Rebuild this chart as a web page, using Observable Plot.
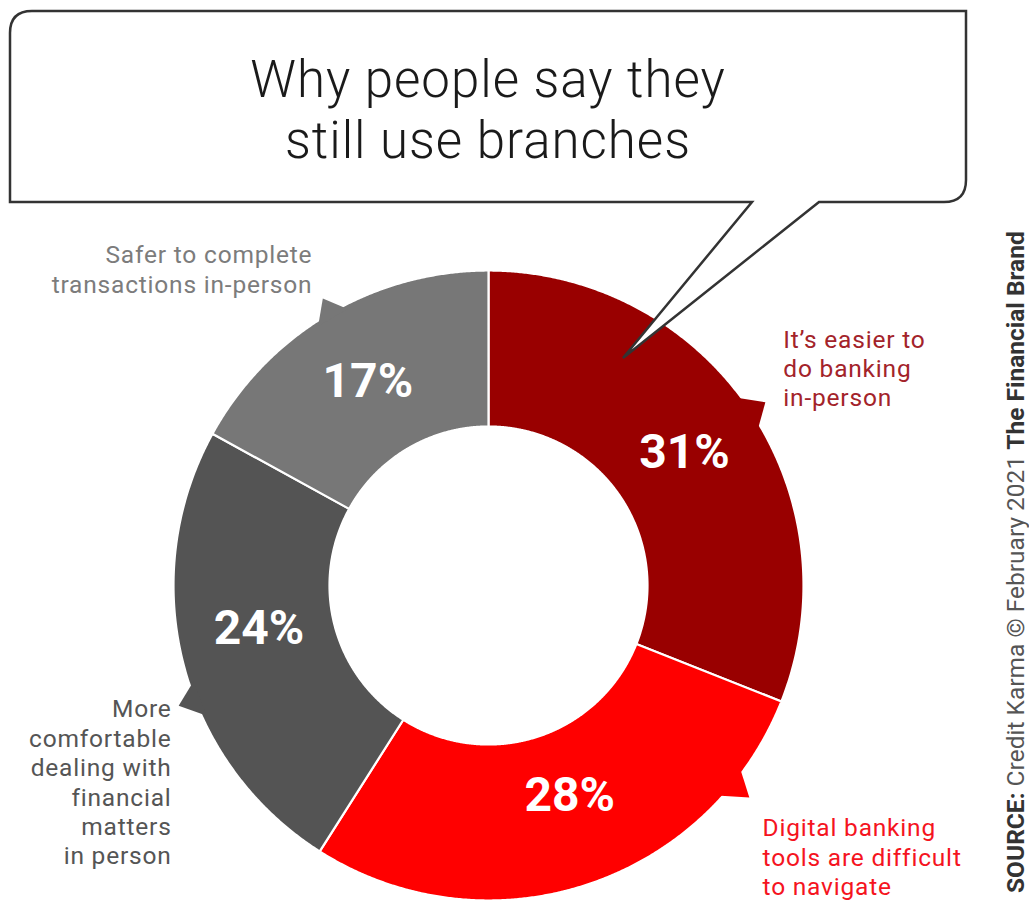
<!DOCTYPE html>
<html>
<head>
<meta charset="utf-8">
<script src="https://cdn.jsdelivr.net/npm/d3@7"></script>
<script src="https://cdn.jsdelivr.net/npm/@observablehq/plot@0.6"></script>
<style>
  html, body { margin: 0; padding: 0; background: #ffffff; }
  #wrap { position: relative; width: 1029px; height: 903px; overflow: hidden; font-family: Roboto, sans-serif; }
  #wrap > svg { position: absolute; left: 0; top: 0; }
  #deco { pointer-events: none; }
  .cat-labels text { letter-spacing: 0.8px; }
</style>
</head>
<body>
<div id="wrap"></div>
<script>
// ---------- data ----------
const categories = [
  "It’s easier to do banking in-person",
  "Digital banking tools are difficult to navigate",
  "More comfortable dealing with financial matters in person",
  "Safer to complete transactions in-person"
];
const shares = [31, 28, 24, 17];
const labelLines = [
  ["It’s easier to", "do banking", "in-person"],
  ["Digital banking", "tools are difficult", "to navigate"],
  ["More", "comfortable", "dealing with", "financial", "matters", "in person"],
  ["Safer to complete", "transactions in-person"]
];
const titleLines = ["Why people say they", "still use branches"];
const sourceParts = [["SOURCE:", true], [" Credit Karma © February 2021 ", false], ["The Financial Brand", true]];

// ---------- styles ----------
const sliceColors = ["#990000", "#ff0000", "#545454", "#777777"];
const labelColors = ["#a3232a", "#f5141e", "#555555", "#7c7c7c"];

// ---------- layout (px / donut units; outer radius = 100 units) ----------
const W = 1029, H = 903;
const CX = 488, CY = 585, R_PX = 315;
const UNIT = R_PX / 100;
const RO = 100, RI = 159 / UNIT;
const labelLayout = [
  {x: 93.6, y: 69.2, anchor: "start"},
  {x: 87.0, y: -86.0, anchor: "start"},
  {x: -100.6, y: -62.2, anchor: "end"},
  {x: -55.9, y: 100.6, anchor: "end"}
];
// nudges of the percentage labels from the ring centroid (px)
const pctNudge = [[0, 0], [8, -15], [0, -16], [0, 0]];
// small callout notches on the outer rim (degrees clockwise from 12 o'clock)
const notchLayout = [
  {a0: 52.7, a1: 60.1, ta: 56.5, tr: 105.4},
  {a0: 125.9, a1: 132.6, ta: 129.1, tr: 106.7},
  {a0: 245.2, a1: 252.0, ta: 248.8, tr: 105.5},
  {a0: 326.7, a1: 333.0, ta: 330.0, tr: 105.2}
];

const arcs = d3.pie().sort(null).value(d => d)(shares);
const pt = (r, a) => ({x: r * Math.sin(a), y: r * Math.cos(a)});

const sliceMarks = arcs.map((a, i) => {
  const pts = [];
  const n = Math.max(12, Math.ceil((a.endAngle - a.startAngle) / 0.005));
  for (let k = 0; k <= n; k++) pts.push(pt(RO, a.startAngle + (a.endAngle - a.startAngle) * k / n));
  for (let k = n; k >= 0; k--) pts.push(pt(RI, a.startAngle + (a.endAngle - a.startAngle) * k / n));
  return Plot.line(pts, {x: "x", y: "y", fill: sliceColors[i], stroke: "#ffffff", strokeWidth: 2.2, curve: "linear-closed"});
});

const rad = d => d * Math.PI / 180;
const notchMarks = notchLayout.map((n, i) => {
  const pts = [pt(RO - 1.5, rad(n.a0)), pt(n.tr, rad(n.ta)), pt(RO - 1.5, rad(n.a1))];
  return Plot.line(pts, {x: "x", y: "y", fill: sliceColors[i], stroke: "none", curve: "linear-closed"});
});

const mid = (RO + RI) / 2;
const pctData = arcs.map((a, i) => {
  const m = (a.startAngle + a.endAngle) / 2;
  const p = pt(mid, m);
  return {x: p.x + pctNudge[i][0] / UNIT, y: p.y - pctNudge[i][1] / UNIT, text: a.data + "%"};
});

const labelData = labelLines.map((lines, i) => ({
  x: labelLayout[i].x, y: labelLayout[i].y, text: lines.join("\n"), color: labelColors[i], anchor: labelLayout[i].anchor, cat: categories[i]
}));

const labelOpts = {x: "x", y: "y", text: "text", fill: "color", fontSize: 24.5, lineHeight: 1.2, fontFamily: "Roboto, sans-serif", className: "cat-labels"};

const chart = Plot.plot({
  width: W,
  height: H,
  margin: 0,
  x: {domain: [-CX / UNIT, (W - CX) / UNIT], axis: null},
  y: {domain: [-(H - CY) / UNIT, CY / UNIT], axis: null},
  style: {background: "transparent", fontFamily: "Roboto, sans-serif"},
  marks: [
    ...sliceMarks,
    ...notchMarks,
    Plot.text(pctData, {x: "x", y: "y", text: "text", fill: "#ffffff", fontSize: 48, fontWeight: 700, fontFamily: "Roboto, sans-serif"}),
    Plot.text(labelData.filter(d => d.anchor === "start"), {...labelOpts, textAnchor: "start"}),
    Plot.text(labelData.filter(d => d.anchor === "end"), {...labelOpts, textAnchor: "end"})
  ],
  color: {type: "identity"}
});

const wrap = document.getElementById("wrap");
wrap.appendChild(chart);
// category label letter-spacing (Plot has no option for it)
chart.querySelectorAll("g[aria-label='text']").forEach((g, i) => {
  if (i > 0) g.style.letterSpacing = "0.8px";
});

// ---------- speech-bubble title + source (decoration overlay) ----------
const NS = "http://www.w3.org/2000/svg";
const deco = document.createElementNS(NS, "svg");
deco.setAttribute("id", "deco");
deco.setAttribute("width", W);
deco.setAttribute("height", H);
deco.setAttribute("viewBox", `0 0 ${W} ${H}`);
const bubble = document.createElementNS(NS, "path");
bubble.setAttribute("d", "M10,202 L10,33 Q10,11 32,11 L966,11 L966,180 Q966,202 944,202 L819,202 L623,358 L752,202 Z");
bubble.setAttribute("fill", "#ffffff");
bubble.setAttribute("stroke", "#333333");
bubble.setAttribute("stroke-width", "2.5");
bubble.setAttribute("stroke-linejoin", "miter");
deco.appendChild(bubble);

titleLines.forEach((t, i) => {
  const tx = document.createElementNS(NS, "text");
  tx.setAttribute("x", 488);
  tx.setAttribute("y", 97 + i * 61);
  tx.setAttribute("text-anchor", "middle");
  tx.setAttribute("font-family", "Roboto, sans-serif");
  tx.setAttribute("font-size", "51");
  tx.setAttribute("font-weight", "300");
  tx.setAttribute("letter-spacing", "1");
  tx.setAttribute("fill", "#1a1a1a");
  tx.textContent = t;
  deco.appendChild(tx);
});

const src = document.createElementNS(NS, "text");
src.setAttribute("transform", "translate(1024,893) rotate(-90)");
src.setAttribute("font-family", "Roboto, sans-serif");
src.setAttribute("font-size", "24.5");
src.setAttribute("fill", "#555555");
sourceParts.forEach(([s, bold]) => {
  const ts = document.createElementNS(NS, "tspan");
  ts.textContent = s;
  if (bold) { ts.setAttribute("font-weight", "700"); ts.setAttribute("fill", "#333333"); }
  src.appendChild(ts);
});
deco.appendChild(src);
wrap.appendChild(deco);
</script>
</body>
</html>
